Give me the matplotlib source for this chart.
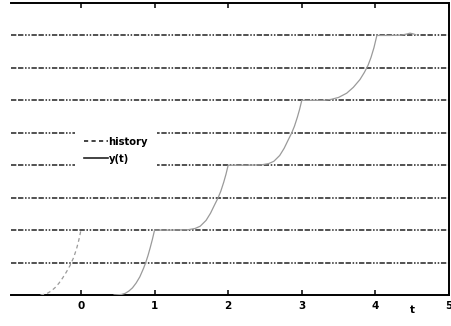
import matplotlib
matplotlib.use("Agg")
from matplotlib import pyplot as plt
from matplotlib.lines import Line2D

# history segment (dashed)
hist_t = [-0.55, -0.5, -0.45, -0.4, -0.35, -0.3, -0.25, -0.2, -0.15,
          -0.1, -0.06, -0.03, 0.0]
hist_y = [0.0, 0.02, 0.06, 0.13, 0.23, 0.36, 0.52, 0.7, 0.9,
          1.15, 1.42, 1.68, 2.0]

# solution y(t)
sol_t = [0.45, 0.55, 0.6, 0.65, 0.7, 0.75, 0.8, 0.85, 0.88, 0.91, 0.94, 0.97, 1.0,
         1.2, 1.45, 1.55, 1.62, 1.7, 1.76, 1.82, 1.86, 1.9, 1.94, 1.97, 2.0,
         2.2, 2.45, 2.55, 2.62, 2.7, 2.76, 2.82, 2.86, 2.9, 2.94, 2.97, 3.0,
         3.3, 3.4, 3.5, 3.61, 3.7, 3.79, 3.85, 3.9, 3.94, 3.98, 4.02,
         4.2, 4.35, 4.42, 4.47, 4.51, 4.55]
sol_y = [0.0, 0.016, 0.05, 0.12, 0.22, 0.37, 0.56, 0.82, 1.0, 1.21, 1.45, 1.71, 2.0,
         2.0, 2.01, 2.05, 2.12, 2.3, 2.52, 2.8, 2.98, 3.2, 3.48, 3.72, 4.0,
         4.0, 4.01, 4.05, 4.12, 4.3, 4.52, 4.8, 4.98, 5.2, 5.48, 5.72, 6.0,
         6.0, 6.03, 6.09, 6.22, 6.4, 6.64, 6.86, 7.08, 7.32, 7.62, 8.0,
         8.0, 8.01, 8.04, 8.07, 8.05, 8.02]

x_ticks = [0, 1, 2, 3, 4, 5]
grid_levels = [1, 2, 3, 4, 5, 6, 7, 8]

fig = plt.figure(figsize=(4.51, 3.26), dpi=100)
ax = fig.add_axes([0.0244, 0.0951, 0.9712, 0.8957])

ax.plot(hist_t, hist_y, color="#9a9a9a", lw=0.9, linestyle=(0, (3, 2.5)), zorder=3)
ax.plot(sol_t, sol_y, color="#9a9a9a", lw=0.9, zorder=3)

ax.set_xlim(-0.95, 5)
ax.set_ylim(0, 9)

# dash-dot gridlines at integer levels
ax.set_yticks(grid_levels)
ax.yaxis.grid(True, color="#222222", lw=1.1,
              linestyle=(0, (3.5, 1.1, 3.5, 1.1, 1.0, 1.1, 1.0, 1.1)))
ax.tick_params(axis="y", left=False, labelleft=False)

ax.set_xticks(x_ticks)
ax.set_xticklabels([str(v) for v in x_ticks], fontsize=7.5, fontweight="bold")
ax.tick_params(axis="x", direction="in", top=True, length=3.5, width=1.1, pad=4)

for side in ["top", "bottom", "right"]:
    ax.spines[side].set_linewidth(1.4)
ax.spines["left"].set_visible(False)

ax.set_xlabel("t", fontsize=7.5, fontweight="bold")
ax.xaxis.set_label_coords(0.916, -0.035)

handles = [Line2D([], [], color="#222222", lw=1.2, linestyle=(0, (2.5, 2))),
           Line2D([], [], color="#222222", lw=1.2)]
leg = ax.legend(handles, ["history", "y(t)"], loc="upper left",
                bbox_to_anchor=(0.146, 0.572),
                prop={"weight": "bold", "size": 7.2},
                frameon=True, fancybox=False, handlelength=2.4,
                handletextpad=0.05, labelspacing=0.7, borderpad=0.9,
                borderaxespad=0)
leg.get_frame().set_facecolor("white")
leg.get_frame().set_edgecolor("none")
leg.get_frame().set_alpha(1)
leg.set_zorder(5)

fig.savefig("out.png", dpi=100)
